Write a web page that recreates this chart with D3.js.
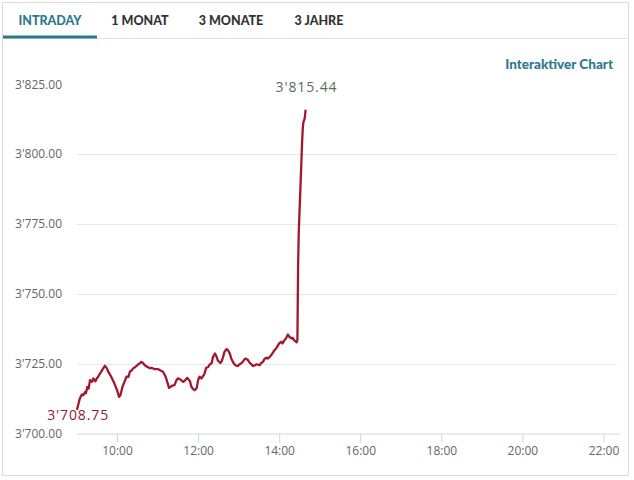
<!DOCTYPE html>
<html>
<head>
<meta charset="utf-8">
<script src="https://cdn.jsdelivr.net/npm/d3@7/dist/d3.min.js"></script>
<style>
  html, body { margin: 0; padding: 0; background: #fff; }
  svg { display: block; }
</style>
</head>
<body>
<svg id="chart" width="634" height="480"></svg>
<script>
// ---- data ----
const tabs = ["INTRADAY", "1 MONAT", "3 MONATE", "3 JAHRE"];
const yTicks = [3700, 3725, 3750, 3775, 3800, 3825];
const xTickLabels = ["10:00", "12:00", "14:00", "16:00", "18:00", "20:00", "22:00"];
const xDomain = ["09:00", "22:23"];
const times = [
  "09:01","09:03","09:05","09:08","09:10","09:13","09:14","09:16","09:18","09:20",
  "09:23","09:25","09:28","09:30","09:32","09:35","09:37","09:40","09:42","09:45",
  "09:47","09:50","09:55","10:00","10:03","10:05","10:08","10:12","10:14","10:17",
  "10:19","10:22","10:24","10:27","10:29","10:31","10:34","10:36","10:39","10:41",
  "10:45","10:49","10:51","10:56","11:01","11:03","11:08","11:12","11:15","11:17",
  "11:21","11:25","11:28","11:30","11:34","11:38","11:41","11:44","11:48","11:50",
  "11:53","11:55","11:58","12:00","12:02","12:05","12:09","12:12","12:15","12:17",
  "12:20","12:22","12:25","12:27","12:29","12:33","12:35","12:37","12:39","12:42",
  "12:44","12:47","12:49","12:52","12:54","12:57","12:59","13:01","13:04","13:06",
  "13:09","13:11","13:14","13:16","13:19","13:21","13:24","13:26","13:28","13:31",
  "13:33","13:36","13:38","13:41","13:43","13:46","13:48","13:51","13:53","13:56",
  "13:58","14:00","14:03","14:05","14:08","14:10","14:13","14:15","14:18","14:20",
  "14:22","14:25","14:26","14:27","14:28","14:29","14:30","14:31","14:32","14:33",
  "14:34","14:35","14:36","14:37","14:38","14:39"
];
const values = [
  3708.75,3710.7,3712.5,3714.0,3713.7,3714.9,3714.4,3716.7,3716.1,3719.1,
  3718.5,3719.7,3718.7,3719.7,3720.3,3721.5,3722.3,3723.5,3724.2,3723.3,
  3722.1,3720.9,3718.5,3715.5,3713.1,3713.7,3716.7,3719.1,3720.3,3720.3,
  3722.1,3722.7,3723.3,3723.8,3724.2,3724.7,3725.1,3725.6,3725.1,3724.4,
  3723.8,3723.3,3723.5,3723.0,3723.0,3722.7,3722.1,3720.3,3717.9,3716.3,
  3717.0,3717.3,3719.1,3719.7,3719.3,3718.5,3719.1,3719.9,3718.7,3716.7,
  3715.8,3715.5,3716.3,3719.1,3720.3,3719.7,3721.1,3723.5,3723.8,3724.7,
  3725.1,3727.3,3728.6,3727.7,3726.2,3725.2,3725.9,3727.4,3729.2,3730.2,
  3729.8,3728.6,3726.8,3725.4,3724.7,3724.2,3724.2,3724.7,3725.1,3725.6,
  3726.6,3726.8,3726.2,3725.4,3724.7,3724.2,3724.4,3724.7,3724.7,3724.4,
  3725.1,3725.6,3726.6,3727.1,3726.8,3727.4,3728.0,3729.0,3729.8,3730.6,
  3731.4,3732.2,3732.8,3732.2,3733.4,3734.0,3735.4,3734.6,3734.0,3734.2,
  3733.4,3732.8,3732.6,3733.5,3760.0,3772.0,3778.5,3785.0,3791.5,3798.0,
  3804.5,3809.5,3811.5,3812.0,3813.0,3815.44
];

// ---- helpers ----
const parseT = d3.timeParse("%Y-%m-%d %H:%M");
const toDate = s => parseT("2024-01-01 " + s);
const locale = d3.formatLocale({decimal: ".", thousands: "'", grouping: [3], currency: ["", ""]});
const fmt = locale.format(",.2f");

const data = times.map((t, i) => ({t: toDate(t), v: values[i]}));

const svg = d3.select("#chart");

// card
svg.append("rect").attr("x", 2.5).attr("y", 2.5).attr("width", 626).attr("height", 473)
  .attr("fill", "#fff").attr("stroke", "#dcdcdc");

// tab bar
svg.append("line").attr("x1", 3).attr("x2", 628).attr("y1", 38.5).attr("y2", 38.5)
  .attr("stroke", "#e3e3e3");
const tabX = [50, 140, 231, 319];
svg.selectAll("text.tab").data(tabs).join("text")
  .attr("class", "tab")
  .attr("x", (d, i) => tabX[i]).attr("y", 25)
  .attr("text-anchor", "middle")
  .attr("font-family", "Lato, 'Open Sans', sans-serif")
  .attr("font-weight", "900").attr("font-size", 12.5)
  .attr("fill", (d, i) => i === 0 ? "#2b7a8b" : "#333")
  .text(d => d);
svg.append("rect").attr("x", 3).attr("y", 35.5).attr("width", 94).attr("height", 3)
  .attr("fill", "#2b7a8b");

// Interaktiver Chart
svg.append("text").attr("x", 613).attr("y", 69).attr("text-anchor", "end")
  .attr("font-family", "Lato, 'Open Sans', sans-serif")
  .attr("font-weight", "900").attr("font-size", 13.5)
  .attr("fill", "#2b7a8b").text("Interaktiver Chart");

// scales
const x = d3.scaleTime().domain(xDomain.map(toDate)).range([76.5, 619]);
const y = d3.scaleLinear().domain([3700, 3825]).range([433.5, 84]);

// gridlines (plot area starts below the top label)
svg.append("g").selectAll("line").data(yTicks.filter(v => v > 3700 && v < 3825)).join("line")
  .attr("x1", 77).attr("x2", 617)
  .attr("y1", d => Math.round(y(d)) + 0.5).attr("y2", d => Math.round(y(d)) + 0.5)
  .attr("stroke", "#e6e6e6");

// y labels
svg.append("g").selectAll("text").data(yTicks).join("text")
  .attr("x", 62).attr("y", d => y(d) + 4.5)
  .attr("text-anchor", "end")
  .attr("font-family", "'Open Sans', sans-serif").attr("font-size", 12)
  .attr("fill", "#666")
  .text(d => fmt(d));

// x axis
const xAxis = d3.axisBottom(x)
  .tickValues(xTickLabels.map(toDate))
  .tickFormat(d3.timeFormat("%H:%M"))
  .tickSizeInner(9).tickSizeOuter(0).tickPadding(4);
const gx = svg.append("g").attr("transform", "translate(0,433.5)").call(xAxis);
gx.select(".domain").attr("stroke", "#ccd6eb");
gx.selectAll(".tick line").attr("stroke", "#ccd6eb");
gx.selectAll(".tick text")
  .attr("font-family", "'Open Sans', sans-serif").attr("font-size", 12)
  .attr("fill", "#666");

// line
const line = d3.line().x(d => x(d.t)).y(d => y(d.v)).curve(d3.curveLinear);
svg.append("path").datum(data)
  .attr("d", line)
  .attr("fill", "none")
  .attr("stroke", "#a3172f")
  .attr("stroke-width", 2.3)
  .attr("stroke-linejoin", "round")
  .attr("stroke-linecap", "round");

// start / end labels
const first = data[0], last = data[data.length - 1];
svg.append("text")
  .attr("x", x(first.t) + 1).attr("y", y(first.v) + 10.5)
  .attr("text-anchor", "middle")
  .attr("font-family", "'Open Sans', sans-serif").attr("font-size", 14)
  .attr("letter-spacing", 0.9)
  .attr("fill", "#8a1f2e")
  .text(fmt(first.v));
svg.append("text")
  .attr("x", x(last.t) + 1).attr("y", y(last.v) - 19)
  .attr("text-anchor", "middle")
  .attr("font-family", "'Open Sans', sans-serif").attr("font-size", 14)
  .attr("letter-spacing", 0.9)
  .attr("fill", "#57715a")
  .text(fmt(last.v));
</script>
</body>
</html>
